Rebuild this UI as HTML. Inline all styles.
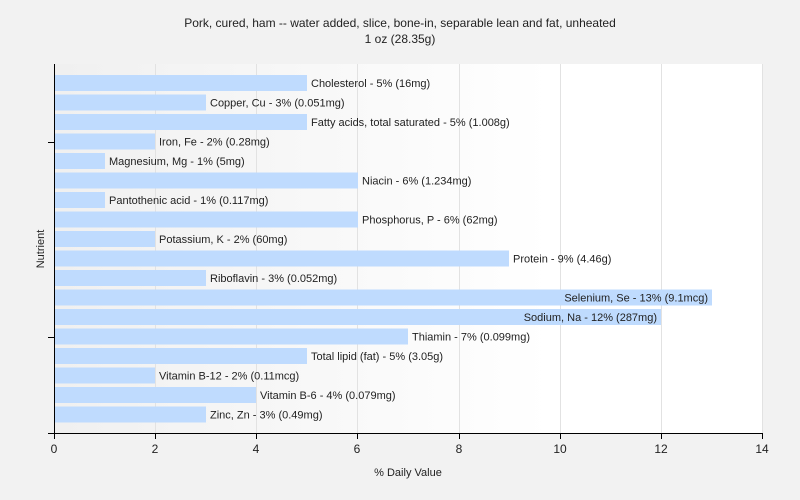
<!DOCTYPE html>
<html><head><style>
body{margin:0;background:#f2f2f1;}
svg{display:block;font-family:"Liberation Sans",sans-serif;}
</style></head><body>
<svg width="800" height="500" xmlns="http://www.w3.org/2000/svg">
<defs><linearGradient id="g" x1="0" x2="1" y1="0" y2="0"><stop offset="0" stop-color="#f0f0f0"/><stop offset="0.7" stop-color="#ffffff"/><stop offset="1" stop-color="#ffffff"/></linearGradient></defs>
<rect width="800" height="500" fill="#f2f2f2"/>
<rect x="54" y="64" width="709" height="369" fill="url(#g)"/>
<g stroke="#e2e2e2" stroke-width="1">
<line x1="155.5" y1="64" x2="155.5" y2="433"/><line x1="256.5" y1="64" x2="256.5" y2="433"/><line x1="357.5" y1="64" x2="357.5" y2="433"/><line x1="459.5" y1="64" x2="459.5" y2="433"/><line x1="560.5" y1="64" x2="560.5" y2="433"/><line x1="661.5" y1="64" x2="661.5" y2="433"/><line x1="762.5" y1="64" x2="762.5" y2="433"/>
</g>
<text x="400" y="27" font-size="12" text-anchor="middle" fill="#222">Pork, cured, ham -- water added, slice, bone-in, separable lean and fat, unheated</text>
<text x="400" y="43" font-size="12" text-anchor="middle" fill="#222">1 oz (28.35g)</text>
<g fill="#bfdbfe" font-size="11">
<rect x="54" y="75" width="253" height="16"/>
<rect x="54" y="94.5" width="152" height="16"/>
<rect x="54" y="114" width="253" height="16"/>
<rect x="54" y="133.5" width="101" height="16"/>
<rect x="54" y="153" width="51" height="16"/>
<rect x="54" y="172.5" width="304" height="16"/>
<rect x="54" y="192" width="51" height="16"/>
<rect x="54" y="211.5" width="304" height="16"/>
<rect x="54" y="231" width="101" height="16"/>
<rect x="54" y="250.5" width="455" height="16"/>
<rect x="54" y="270" width="152" height="16"/>
<rect x="54" y="289.5" width="658" height="16"/>
<rect x="54" y="309" width="607" height="16"/>
<rect x="54" y="328.5" width="354" height="16"/>
<rect x="54" y="348" width="253" height="16"/>
<rect x="54" y="367.5" width="101" height="16"/>
<rect x="54" y="387" width="202" height="16"/>
<rect x="54" y="406.5" width="152" height="16"/>
</g>
<g font-size="11" fill="#222">
<text x="311" y="87">Cholesterol - 5% (16mg)</text>
<text x="210" y="106.5">Copper, Cu - 3% (0.051mg)</text>
<text x="311" y="126">Fatty acids, total saturated - 5% (1.008g)</text>
<text x="159" y="145.5">Iron, Fe - 2% (0.28mg)</text>
<text x="109" y="165">Magnesium, Mg - 1% (5mg)</text>
<text x="362" y="184.5">Niacin - 6% (1.234mg)</text>
<text x="109" y="204">Pantothenic acid - 1% (0.117mg)</text>
<text x="362" y="223.5">Phosphorus, P - 6% (62mg)</text>
<text x="159" y="243">Potassium, K - 2% (60mg)</text>
<text x="513" y="262.5">Protein - 9% (4.46g)</text>
<text x="210" y="282">Riboflavin - 3% (0.052mg)</text>
<text x="708" y="301.5" text-anchor="end">Selenium, Se - 13% (9.1mcg)</text>
<text x="657" y="321" text-anchor="end">Sodium, Na - 12% (287mg)</text>
<text x="412" y="340.5">Thiamin - 7% (0.099mg)</text>
<text x="311" y="360">Total lipid (fat) - 5% (3.05g)</text>
<text x="159" y="379.5">Vitamin B-12 - 2% (0.11mcg)</text>
<text x="260" y="399">Vitamin B-6 - 4% (0.079mg)</text>
<text x="210" y="418.5">Zinc, Zn - 3% (0.49mg)</text>
</g>
<g stroke="#000" stroke-width="1">
<line x1="54.5" y1="64" x2="54.5" y2="434"/>
<line x1="48" y1="433.5" x2="763" y2="433.5"/>
<line x1="48" y1="142.5" x2="54" y2="142.5"/>
<line x1="48" y1="337.5" x2="54" y2="337.5"/>
<line x1="54.5" y1="433" x2="54.5" y2="439"/><line x1="155.5" y1="433" x2="155.5" y2="439"/><line x1="256.5" y1="433" x2="256.5" y2="439"/><line x1="357.5" y1="433" x2="357.5" y2="439"/><line x1="459.5" y1="433" x2="459.5" y2="439"/><line x1="560.5" y1="433" x2="560.5" y2="439"/><line x1="661.5" y1="433" x2="661.5" y2="439"/><line x1="762.5" y1="433" x2="762.5" y2="439"/>
</g>
<g font-size="12" fill="#222" text-anchor="middle">
<text x="54" y="453">0</text><text x="155" y="453">2</text><text x="256" y="453">4</text><text x="357" y="453">6</text><text x="459" y="453">8</text><text x="560" y="453">10</text><text x="661" y="453">12</text><text x="762" y="453">14</text>
</g>
<text x="408" y="476" font-size="11" text-anchor="middle" fill="#222">% Daily Value</text>
<text transform="translate(44,249) rotate(-90)" font-size="11" text-anchor="middle" fill="#222">Nutrient</text>
</svg>
</body></html>
